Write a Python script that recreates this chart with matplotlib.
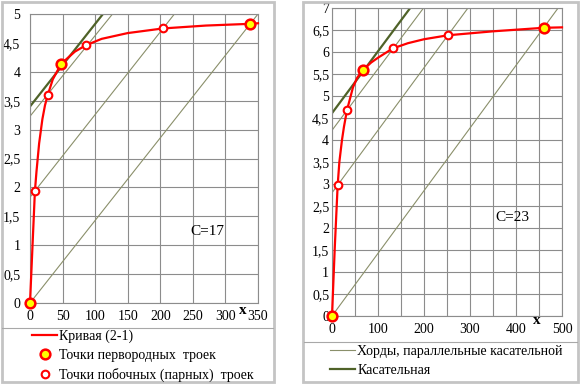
import matplotlib
matplotlib.use("Agg")
import matplotlib.pyplot as plt
from matplotlib.patches import Rectangle
from matplotlib.lines import Line2D
from matplotlib.ticker import FuncFormatter, MultipleLocator

plt.rcParams['font.family'] = ['Liberation Serif', 'DejaVu Serif']

# ---- C=17 (left) ----
curve17_x = [0, 7.5, 10, 14, 19, 23, 27, 35, 48, 69, 86, 110, 150, 204, 270, 338, 350]
curve17_y = [0, 1.93, 2.28, 2.76, 3.18, 3.42, 3.59, 3.87, 4.14, 4.35, 4.46, 4.57, 4.67, 4.75, 4.80, 4.83, 4.84]
prim17_x = [0, 48, 338]
prim17_y = [0, 4.14, 4.83]
side17_x = [7.5, 27, 86, 204]
side17_y = [1.93, 3.59, 4.46, 4.75]
# chords: start / end points
chord17_x = [[0, 126.7], [0, 221.7], [0, 350]]
chord17_y = [[3.23, 5.0], [1.83, 5.0], [0, 5.0]]
tang17_x = [0, 112]
tang17_y = [3.4, 5.0]

# ---- C=23 (right) ----
curve23_x = [0, 6, 12.3, 16, 21.7, 26, 32.6, 45.7, 55, 67.4, 85, 100, 131.9, 165, 200, 252, 350, 460, 500]
curve23_y = [0, 1.55, 2.97, 3.5, 4.0, 4.3, 4.68, 5.2, 5.42, 5.59, 5.76, 5.87, 6.08, 6.2, 6.29, 6.38, 6.47, 6.55, 6.56]
prim23_x = [0, 67.4, 460]
prim23_y = [0, 5.59, 6.55]
side23_x = [12.3, 32.6, 131.9, 252]
side23_y = [2.97, 4.68, 6.08, 6.38]
chord23_x = [[0, 199], [0, 295.6], [0, 491.6]]
chord23_y = [[4.22, 7.0], [2.80, 7.0], [0, 7.0]]
tang23_x = [0, 170]
tang23_y = [4.61, 7.0]

RED = '#ff0000'
CHORD = '#8a8f6a'
TANG = '#4f6228'
GRID = '#8c8c8c'
FS = 10

W, H = 580, 387
fig = plt.figure(figsize=(5.8, 3.87), dpi=100)


def fx(px):
    return px / W


def fy(py):
    return 1 - py / H


def comma(v, pos):
    return ('%g' % v).replace('.', ',')


def setup(ax, xmax, ymax, xlab_step, ypad):
    ax.set_xlim(0, xmax)
    ax.set_ylim(0, ymax)
    ax.xaxis.set_major_locator(MultipleLocator(xlab_step))
    ax.xaxis.set_minor_locator(MultipleLocator(50))
    ax.yaxis.set_major_locator(MultipleLocator(0.5))
    ax.yaxis.set_major_formatter(FuncFormatter(comma))
    ax.grid(True, which='both', color=GRID, lw=0.8)
    ax.set_axisbelow(True)
    for s in ax.spines.values():
        s.set_color(GRID)
        s.set_linewidth(0.8)
    ax.tick_params(axis='both', which='both', length=0, labelsize=FS)
    ax.tick_params(axis='x', pad=5)
    ax.tick_params(axis='y', pad=ypad)


def draw(ax, cx, cy, px, py, sx, sy, chx, chy, tx, ty):
    for xs, ys in zip(chx, chy):
        ax.plot(xs, ys, color=CHORD, lw=0.8, zorder=2)
    ax.plot(tx, ty, color=TANG, lw=1.6, zorder=2)
    ax.plot(cx, cy, color=RED, lw=1.6, zorder=3, clip_on=False)
    ax.plot(sx, sy, 'o', ms=5.5, mfc='white', mec=RED, mew=1.5, zorder=4)
    ax.plot(px, py, 'o', ms=7, mfc='#ffff00', mec=RED, mew=1.8, zorder=5, clip_on=False)


# panel frames
fig.patches.append(Rectangle((fx(1.5), fy(382)), fx(272), (380) / H, transform=fig.transFigure,
                             fill=False, edgecolor='#c4c4c4', lw=2))
fig.patches.append(Rectangle((fx(303), fy(382)), fx(275), (380) / H, transform=fig.transFigure,
                             fill=False, edgecolor='#c4c4c4', lw=2))
fig.lines.append(Line2D([fx(2), fx(273)], [fy(328), fy(328)], transform=fig.transFigure,
                        color='#a8a8a8', lw=0.8))
fig.lines.append(Line2D([fx(304), fx(577)], [fy(342), fy(342)], transform=fig.transFigure,
                        color='#a8a8a8', lw=0.8))

# left chart
ax1 = fig.add_axes([fx(30), fy(303), (258 - 30) / W, (303 - 14) / H])
setup(ax1, 350, 5, 50, 7)
draw(ax1, curve17_x, curve17_y, prim17_x, prim17_y, side17_x, side17_y,
     chord17_x, chord17_y, tang17_x, tang17_y)
ax1.text(272, 1.23, 'C=17', fontsize=11, ha='center', va='center')
fig.text(fx(243), fy(311), 'x', fontsize=11, fontweight='bold', ha='center', va='center')

# right chart
ax2 = fig.add_axes([fx(332), fy(316), (562 - 332) / W, (316 - 8) / H])
setup(ax2, 500, 7, 100, 2)
draw(ax2, curve23_x, curve23_y, prim23_x, prim23_y, side23_x, side23_y,
     chord23_x, chord23_y, tang23_x, tang23_y)
ax2.text(393, 2.23, 'C=23', fontsize=11, ha='center', va='center')
fig.text(fx(537), fy(321), 'x', fontsize=11, fontweight='bold', ha='center', va='center')

# legends
h_curve = Line2D([], [], color=RED, lw=1.6)
h_prim = Line2D([], [], ls='', marker='o', ms=7, mfc='#ffff00', mec=RED, mew=1.8)
h_side = Line2D([], [], ls='', marker='o', ms=5.5, mfc='white', mec=RED, mew=1.5)
h_chord = Line2D([], [], color=CHORD, lw=0.8)
h_tang = Line2D([], [], color=TANG, lw=1.6)

fig.legend([h_curve, h_prim, h_side],
           ['Кривая (2-1)', 'Точки первородных  троек', 'Точки побочных (парных)  троек'],
           loc='upper left', bbox_to_anchor=(fx(32), fy(330)), bbox_transform=fig.transFigure,
           frameon=False, fontsize=FS, borderpad=0, borderaxespad=0,
           handlelength=1.8, handletextpad=0.15, labelspacing=0.4)
fig.legend([h_chord, h_tang],
           ['Хорды, параллельные касательной', 'Касательная'],
           loc='upper left', bbox_to_anchor=(fx(330), fy(345)), bbox_transform=fig.transFigure,
           frameon=False, fontsize=FS, borderpad=0, borderaxespad=0,
           handlelength=1.8, handletextpad=0.15, labelspacing=0.4)

fig.savefig('out.png', dpi=100)
